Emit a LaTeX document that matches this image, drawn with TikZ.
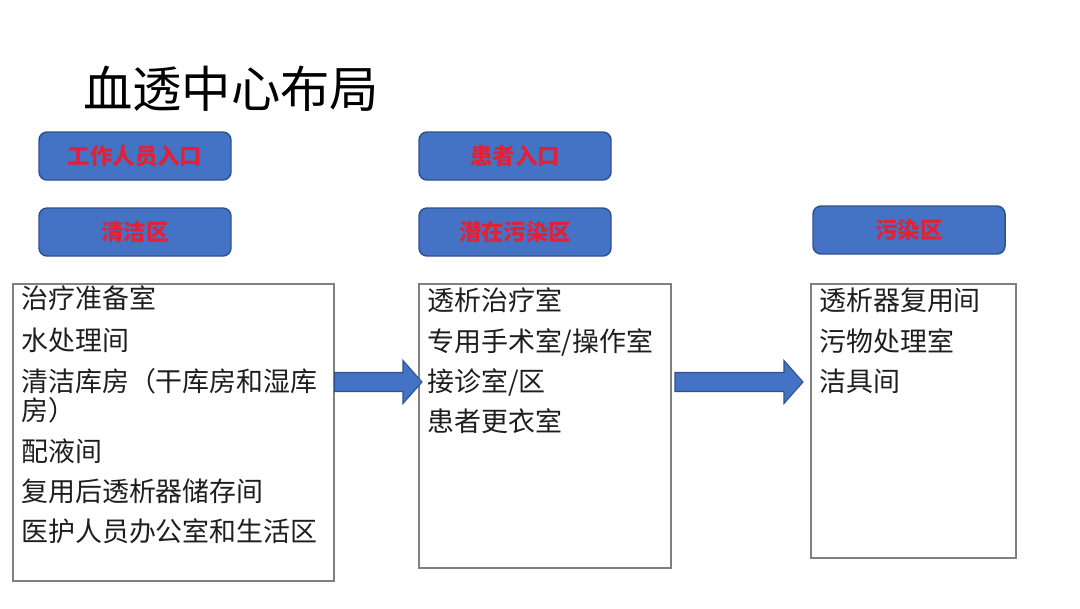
\documentclass[tikz,border=0pt]{standalone}
\usepackage{fontspec}
\setmainfont{Noto Sans CJK SC}
\usepackage{tikz}
\usetikzlibrary{calc}

\definecolor{btnfill}{RGB}{68,114,196}
\definecolor{btnline}{RGB}{47,82,143}
\definecolor{btntext}{RGB}{228,32,52}
\definecolor{boxline}{RGB}{128,128,128}
\definecolor{itemtext}{RGB}{30,30,30}

\tikzset{
	zonebtn/.style={draw=btnline, line width=1.1pt, fill=btnfill, rounded corners=6pt,
		minimum width=144pt, minimum height=36pt, inner sep=0pt,
		text=btntext, font=\fontsize{16.8pt}{16.8pt}\selectfont\bfseries},
	listbox/.style={draw=boxline, line width=0.8pt, inner sep=0pt},
	item/.style={anchor=base west, inner sep=0pt, text=itemtext, font=\fontsize{20.2pt}{20.2pt}\selectfont},
	flow/.style={fill=btnfill, draw=btnline, line width=0.8pt},
}

% wide flat arrow from #1 to the tip #2
\newcommand{\flowarrow}[2]{
	\draw[flow] ($(#1)+(0,-9.5)$) -- ($(#2)+(-19,-9.5)$) -- ($(#2)+(-19,-21.5)$) -- (#2)
		-- ($(#2)+(-19,21.5)$) -- ($(#2)+(-19,9.5)$) -- ($(#1)+(0,9.5)$) -- cycle;
}

\begin{document}
\begin{tikzpicture}[x=0.75pt, y=-0.75pt]
	\useasboundingbox (0,0) rectangle (1080,608);

	\node[anchor=base west, inner sep=0pt, font=\fontsize{37pt}{37pt}\selectfont] (title) at (83,107) {血透中心布局};

	% buttons
	\node[zonebtn] (staff) at (135,156) {工作人员入口};
	\node[zonebtn] (clean) at (135,232) {清洁区};
	\node[zonebtn] (patient) at (515,156) {患者入口};
	\node[zonebtn] (semi) at (515,232) {潜在污染区};
	\node[zonebtn] (dirty) at (909,230) {污染区};

	% room lists
	\node[listbox, minimum width=240.75pt, minimum height=222.75pt] (cleanlist) at (173.5,432.5) {};
	\node[listbox, minimum width=189pt, minimum height=213pt] (semilist) at (545,426) {};
	\node[listbox, minimum width=153.75pt, minimum height=205.5pt] (dirtylist) at (913.5,421) {};

	\foreach \y/\t [count=\i] in {298/治疗准备室, 340/水处理间, 381/清洁库房（干库房和湿库, 410/房）,
			451/配液间, 491/复用后透析器储存间, 531/医护人员办公室和生活区}
		\node[item] (c-\i) at (21,\y+10) {\t};
	\foreach \y/\t [count=\i] in {300/透析治疗室, 341/{专用手术室/操作室}, 381/{接诊室/区}, 421/患者更衣室}
		\node[item] (s-\i) at (427,\y+10) {\t};
	\foreach \y/\t [count=\i] in {300/透析器复用间, 341/污物处理室, 381/洁具间}
		\node[item] (d-\i) at (819,\y+10) {\t};

	% arrows between zones
	\coordinate (a1) at (cleanlist.east |- 0,382);
	\coordinate (a1tip) at (422,382);
	\coordinate (a2) at (675,382);
	\coordinate (a2tip) at (803,382);
	\flowarrow{a1}{a1tip}
	\flowarrow{a2}{a2tip}
\end{tikzpicture}
\end{document}
